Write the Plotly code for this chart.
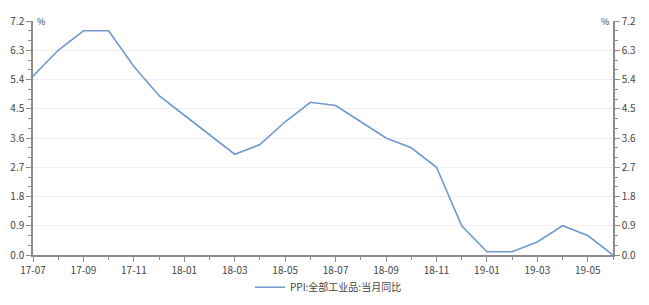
import plotly.graph_objects as go

months = ["17-07","17-08","17-09","17-10","17-11","17-12","18-01","18-02","18-03","18-04",
          "18-05","18-06","18-07","18-08","18-09","18-10","18-11","18-12","19-01","19-02",
          "19-03","19-04","19-05","19-06"]
ppi = [5.5, 6.3, 6.9, 6.9, 5.8, 4.9, 4.3, 3.7, 3.1, 3.4,
       4.1, 4.7, 4.6, 4.1, 3.6, 3.3, 2.7, 0.9, 0.1, 0.1,
       0.4, 0.9, 0.6, 0.0]
y_ticks = [0.0, 0.9, 1.8, 2.7, 3.6, 4.5, 5.4, 6.3, 7.2]
series_name = "PPI:全部工业品:当月同比"

xi = list(range(len(months)))
line_color = "#7099d0"
axis_color = "#8c8c8c"
font = dict(family="Noto Sans CJK SC, Noto Sans, sans-serif", size=10, color="#444444")

fig = go.Figure()
fig.add_trace(go.Scatter(x=xi, y=ppi, mode="lines", name=series_name,
                         line=dict(color=line_color, width=1.6)))
fig.add_trace(go.Scatter(x=xi, y=ppi, mode="lines", yaxis="y2", showlegend=False,
                         hoverinfo="skip", line=dict(color="rgba(0,0,0,0)", width=0)))

common_y = dict(range=[0, 7.2], tickvals=y_ticks, ticktext=[f"{v:.1f}" for v in y_ticks],
                showline=True, linecolor=axis_color, linewidth=1.5,
                ticks="outside", ticklen=5, tickcolor=axis_color, tickwidth=1,
                minor=dict(dtick=0.3, ticks="outside", ticklen=3, tickcolor=axis_color, tickwidth=1),
                tickfont=font, zeroline=False, automargin=False)

# page body has an 8px default margin, so the figure is sized/margined to compensate
fig.update_layout(
    width=641, height=297,
    margin=dict(l=25, r=36, t=13, b=50),
    plot_bgcolor="white", paper_bgcolor="white",
    font=font,
    xaxis=dict(range=[0, len(months) - 1], tickvals=xi[::2], ticktext=months[::2],
               showline=True, linecolor=axis_color, linewidth=1.5,
               ticks="outside", ticklen=5, tickcolor=axis_color, tickwidth=1,
               minor=dict(dtick=1, ticks="outside", ticklen=3, tickcolor=axis_color, tickwidth=1),
               showgrid=False, zeroline=False, tickfont=font, automargin=False),
    yaxis=dict(**common_y, showgrid=True, gridcolor="#f0f0f0", gridwidth=1),
    yaxis2=dict(**common_y, overlaying="y", side="right", showgrid=False),
    showlegend=True,
    legend=dict(orientation="h", x=0.5, xanchor="center", xref="container",
                y=0.06, yanchor="middle", yref="container",
                bgcolor="rgba(0,0,0,0)",
                font=dict(family="Noto Sans CJK SC, sans-serif", size=10, color="#444444")),
    annotations=[
        dict(text="%", xref="paper", yref="y", x=0, y=7.2, xanchor="left", yanchor="middle",
             showarrow=False, xshift=2, font=dict(size=9, color="#444444")),
        dict(text="%", xref="paper", yref="y", x=1, y=7.2, xanchor="right", yanchor="middle",
             showarrow=False, xshift=-2, font=dict(size=9, color="#444444")),
    ],
)

fig.write_html("out.html")
